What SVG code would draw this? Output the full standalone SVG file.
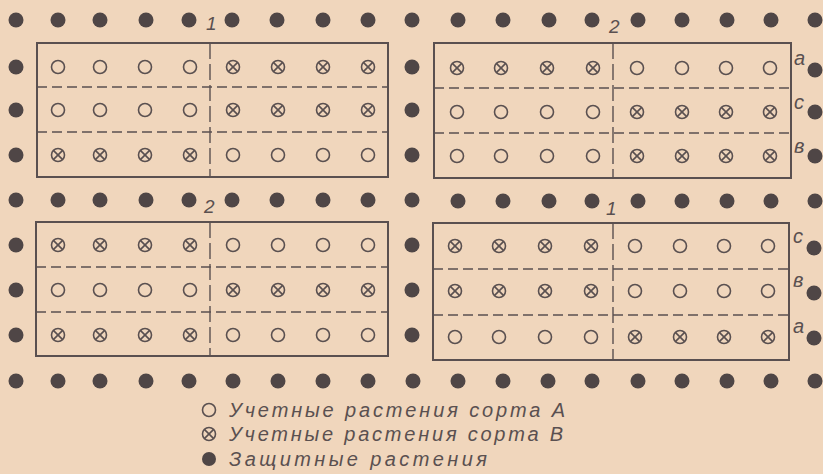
<svg xmlns="http://www.w3.org/2000/svg" xmlns:xlink="http://www.w3.org/1999/xlink" width="823" height="474" viewBox="0 0 823 474">
<style>
.bg{fill:#f0d6bc}
.dot{fill:#4f4646}
.frame{fill:none;stroke:#5a5050;stroke-width:2}
.hd{stroke:#5a5050;stroke-width:1.6;stroke-dasharray:10 5;fill:none}
.vd{stroke:#5a5050;stroke-width:1.4;stroke-dasharray:16 5;fill:none}
.sym{fill:none;stroke:#5a5050;stroke-width:1.6}
.lbl{font-family:"Liberation Sans",Arial,sans-serif;font-style:italic;fill:#5a5050}
.num{font-size:19px}
.row{font-size:20px}
.leg{font-size:20px}
</style>
<defs>
<g id="o"><circle class="sym" cx="0" cy="0" r="6.5"/></g>
<g id="x"><circle class="sym" cx="0" cy="0" r="6.5"/><path class="sym" d="M-4.4,-4.4L4.4,4.4M-4.4,4.4L4.4,-4.4"/></g>
<g id="d"><circle class="dot" cx="0" cy="0" r="7.5"/></g>
</defs>
<rect class="bg" x="0" y="0" width="823" height="474"/>

<g id="guard-plants">
<use xlink:href="#d" x="16" y="20"/><use xlink:href="#d" x="58" y="20"/><use xlink:href="#d" x="100" y="20"/><use xlink:href="#d" x="146" y="20"/><use xlink:href="#d" x="189" y="20"/><use xlink:href="#d" x="232" y="20"/><use xlink:href="#d" x="277" y="20"/><use xlink:href="#d" x="323" y="20"/><use xlink:href="#d" x="368" y="20"/><use xlink:href="#d" x="412" y="20"/><use xlink:href="#d" x="458" y="20"/><use xlink:href="#d" x="503" y="20"/><use xlink:href="#d" x="549" y="20"/><use xlink:href="#d" x="592" y="20"/><use xlink:href="#d" x="638" y="20"/><use xlink:href="#d" x="682" y="20"/><use xlink:href="#d" x="727" y="20"/><use xlink:href="#d" x="771" y="20"/><use xlink:href="#d" x="815" y="20"/>
<use xlink:href="#d" x="16" y="200"/><use xlink:href="#d" x="58" y="200"/><use xlink:href="#d" x="100" y="200"/><use xlink:href="#d" x="146" y="200"/><use xlink:href="#d" x="189" y="200"/><use xlink:href="#d" x="232" y="200"/><use xlink:href="#d" x="277" y="200"/><use xlink:href="#d" x="323" y="200"/><use xlink:href="#d" x="368" y="200"/><use xlink:href="#d" x="412" y="200"/><use xlink:href="#d" x="458" y="201"/><use xlink:href="#d" x="503" y="201"/><use xlink:href="#d" x="549" y="201"/><use xlink:href="#d" x="592" y="201"/><use xlink:href="#d" x="638" y="201"/><use xlink:href="#d" x="682" y="201"/><use xlink:href="#d" x="727" y="201"/><use xlink:href="#d" x="771" y="201"/><use xlink:href="#d" x="815" y="201"/>
<use xlink:href="#d" x="16" y="381"/><use xlink:href="#d" x="58" y="381"/><use xlink:href="#d" x="100" y="381"/><use xlink:href="#d" x="146" y="381"/><use xlink:href="#d" x="189" y="381"/><use xlink:href="#d" x="233" y="381"/><use xlink:href="#d" x="278" y="381"/><use xlink:href="#d" x="323" y="381"/><use xlink:href="#d" x="368" y="381"/><use xlink:href="#d" x="413" y="381"/><use xlink:href="#d" x="458" y="381"/><use xlink:href="#d" x="503" y="381"/><use xlink:href="#d" x="548" y="381"/><use xlink:href="#d" x="592" y="381"/><use xlink:href="#d" x="638" y="381"/><use xlink:href="#d" x="682" y="381"/><use xlink:href="#d" x="727" y="381"/><use xlink:href="#d" x="771" y="381"/><use xlink:href="#d" x="815" y="381"/>
<use xlink:href="#d" x="16" y="67"/><use xlink:href="#d" x="16" y="110"/><use xlink:href="#d" x="16" y="155"/>
<use xlink:href="#d" x="412" y="67"/><use xlink:href="#d" x="412" y="110"/><use xlink:href="#d" x="412" y="155"/>
<use xlink:href="#d" x="815" y="70"/><use xlink:href="#d" x="815" y="112"/><use xlink:href="#d" x="815" y="156"/>
<use xlink:href="#d" x="16" y="245"/><use xlink:href="#d" x="16" y="290"/><use xlink:href="#d" x="16" y="335"/>
<use xlink:href="#d" x="412" y="245"/><use xlink:href="#d" x="412" y="290"/><use xlink:href="#d" x="412" y="335"/>
<use xlink:href="#d" x="814" y="248"/><use xlink:href="#d" x="814" y="293"/><use xlink:href="#d" x="814" y="338"/>
</g>

<g id="plot-1-top">
<rect class="frame" x="37" y="43" width="351" height="134"/>
<path class="hd" d="M37,87H388M37,132H388"/>
<path class="vd" d="M210,43V177"/>
<text class="lbl num" x="206" y="30">1</text>
<use xlink:href="#o" x="58" y="67"/><use xlink:href="#o" x="100" y="67"/><use xlink:href="#o" x="145" y="67"/><use xlink:href="#o" x="190" y="67"/>
<use xlink:href="#x" x="233" y="67"/><use xlink:href="#x" x="278" y="67"/><use xlink:href="#x" x="323" y="67"/><use xlink:href="#x" x="368" y="67"/>
<use xlink:href="#o" x="58" y="110"/><use xlink:href="#o" x="100" y="110"/><use xlink:href="#o" x="145" y="110"/><use xlink:href="#o" x="190" y="110"/>
<use xlink:href="#x" x="233" y="110"/><use xlink:href="#x" x="278" y="110"/><use xlink:href="#x" x="323" y="110"/><use xlink:href="#x" x="368" y="110"/>
<use xlink:href="#x" x="58" y="155"/><use xlink:href="#x" x="100" y="155"/><use xlink:href="#x" x="145" y="155"/><use xlink:href="#x" x="190" y="155"/>
<use xlink:href="#o" x="233" y="155"/><use xlink:href="#o" x="278" y="155"/><use xlink:href="#o" x="323" y="155"/><use xlink:href="#o" x="368" y="155"/>
</g>

<g id="plot-2-top">
<rect class="frame" x="434" y="43" width="357" height="135"/>
<path class="hd" d="M434,88H791M434,133H791"/>
<path class="vd" d="M613,43V178"/>
<text class="lbl num" x="609" y="33">2</text>
<use xlink:href="#x" x="457" y="68"/><use xlink:href="#x" x="501" y="68"/><use xlink:href="#x" x="547" y="68"/><use xlink:href="#x" x="593" y="68"/>
<use xlink:href="#o" x="637" y="68"/><use xlink:href="#o" x="682" y="68"/><use xlink:href="#o" x="726" y="68"/><use xlink:href="#o" x="770" y="68"/>
<use xlink:href="#o" x="457" y="112"/><use xlink:href="#o" x="501" y="112"/><use xlink:href="#o" x="547" y="112"/><use xlink:href="#o" x="593" y="112"/>
<use xlink:href="#x" x="637" y="112"/><use xlink:href="#x" x="682" y="112"/><use xlink:href="#x" x="726" y="112"/><use xlink:href="#x" x="770" y="112"/>
<use xlink:href="#o" x="457" y="156"/><use xlink:href="#o" x="501" y="156"/><use xlink:href="#o" x="547" y="156"/><use xlink:href="#o" x="593" y="156"/>
<use xlink:href="#x" x="637" y="156"/><use xlink:href="#x" x="682" y="156"/><use xlink:href="#x" x="726" y="156"/><use xlink:href="#x" x="770" y="156"/>
<text class="lbl row" x="794" y="65">a</text>
<text class="lbl row" x="794" y="109">c</text>
<text class="lbl row" x="794" y="153">в</text>
</g>

<g id="plot-2-bottom">
<rect class="frame" x="36" y="222" width="352" height="134"/>
<path class="hd" d="M36,267H388M36,312H388"/>
<path class="vd" d="M210,222V356"/>
<text class="lbl num" x="204" y="213">2</text>
<use xlink:href="#x" x="58" y="245"/><use xlink:href="#x" x="100" y="245"/><use xlink:href="#x" x="145" y="245"/><use xlink:href="#x" x="190" y="245"/>
<use xlink:href="#o" x="233" y="245"/><use xlink:href="#o" x="278" y="245"/><use xlink:href="#o" x="323" y="245"/><use xlink:href="#o" x="368" y="245"/>
<use xlink:href="#o" x="58" y="290"/><use xlink:href="#o" x="100" y="290"/><use xlink:href="#o" x="145" y="290"/><use xlink:href="#o" x="190" y="290"/>
<use xlink:href="#x" x="233" y="290"/><use xlink:href="#x" x="278" y="290"/><use xlink:href="#x" x="323" y="290"/><use xlink:href="#x" x="368" y="290"/>
<use xlink:href="#x" x="58" y="335"/><use xlink:href="#x" x="100" y="335"/><use xlink:href="#x" x="145" y="335"/><use xlink:href="#x" x="190" y="335"/>
<use xlink:href="#o" x="233" y="335"/><use xlink:href="#o" x="278" y="335"/><use xlink:href="#o" x="323" y="335"/><use xlink:href="#o" x="368" y="335"/>
</g>

<g id="plot-1-bottom">
<rect class="frame" x="433" y="223" width="356" height="137"/>
<path class="hd" d="M433,269H789M433,315H789"/>
<path class="vd" d="M613,223V360"/>
<text class="lbl num" x="606" y="215">1</text>
<use xlink:href="#x" x="455" y="246"/><use xlink:href="#x" x="499" y="246"/><use xlink:href="#x" x="545" y="246"/><use xlink:href="#x" x="591" y="246"/>
<use xlink:href="#o" x="635" y="246"/><use xlink:href="#o" x="680" y="246"/><use xlink:href="#o" x="724" y="246"/><use xlink:href="#o" x="768" y="246"/>
<use xlink:href="#x" x="455" y="291"/><use xlink:href="#x" x="499" y="291"/><use xlink:href="#x" x="545" y="291"/><use xlink:href="#x" x="591" y="291"/>
<use xlink:href="#o" x="635" y="291"/><use xlink:href="#o" x="680" y="291"/><use xlink:href="#o" x="724" y="291"/><use xlink:href="#o" x="768" y="291"/>
<use xlink:href="#o" x="455" y="337"/><use xlink:href="#o" x="499" y="337"/><use xlink:href="#o" x="545" y="337"/><use xlink:href="#o" x="591" y="337"/>
<use xlink:href="#x" x="635" y="337"/><use xlink:href="#x" x="680" y="337"/><use xlink:href="#x" x="724" y="337"/><use xlink:href="#x" x="768" y="337"/>
<text class="lbl row" x="793" y="243">c</text>
<text class="lbl row" x="793" y="287">в</text>
<text class="lbl row" x="793" y="333">a</text>
</g>

<g id="legend">
<use xlink:href="#o" x="209" y="410"/>
<use xlink:href="#x" x="209" y="434"/>
<circle class="dot" cx="209" cy="459" r="7"/>
<text class="lbl leg" x="229" y="417" textLength="336" lengthAdjust="spacing">Учетные растения сорта А</text>
<text class="lbl leg" x="229" y="441" textLength="334" lengthAdjust="spacing">Учетные растения сорта В</text>
<text class="lbl leg" x="229" y="466" textLength="258" lengthAdjust="spacing">Защитные растения</text>
</g>
</svg>
